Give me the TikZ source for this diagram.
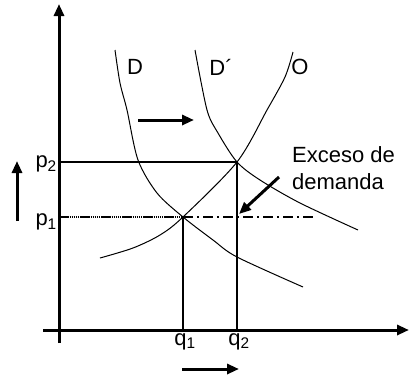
\documentclass[tikz,border=0pt]{standalone}
\usepackage{fontspec}
\setmainfont{Liberation Sans}
\usetikzlibrary{arrows.meta}

\begin{document}
\begin{tikzpicture}[
            x=1pt, y=-1pt,
            >={Triangle[length=12pt, width=10pt]},
            axis/.style={line width=3pt},
            curve/.style={line width=1pt},
            guide/.style={line width=2.6pt},
            movearrow/.style={line width=3pt, ->},
            lbl/.style={font=\fontsize{22}{27}\selectfont, inner sep=1pt},
        ]
        \useasboundingbox (0,0) rectangle (409,378);

        % Equilibrium points
        \coordinate (E1) at (183,217);
        \coordinate (E2) at (237,162);

        % Axes
        \coordinate (yb) at (59,343);
        \coordinate (yt) at (59,4);
        \coordinate (xl) at (43,330);
        \coordinate (xr) at (409,330);
        \draw[axis, ->] (yb) -- (yt);
        \draw[axis, ->] (xl) -- (xr);

        % Demand and supply curves
        \draw[curve] plot[smooth] coordinates {(115,50) (120,83) (127,110) (138,160) (157,193) (183,217) (213,240) (237,257) (303,287)};
        \draw[curve] plot[smooth] coordinates {(195,50) (207,110) (218,133) (237,162) (260,180) (300,203) (358,230)};
        \draw[curve] plot[smooth] coordinates {(100,258) (133,248) (160,235) (183,217) (237,162) (267,110) (285,77) (293,52)};

        \node[lbl] (lD) at (135,67) {D};
        \node[lbl] (lDp) at (221,67) {D\textasciiacute};
        \node[lbl] (lO) at (300,67) {O};

        % Guide lines to the axes
        \coordinate (p1a) at (59,217);
        \coordinate (p2a) at (59,162);
        \coordinate (q1a) at (183,330);
        \coordinate (q2a) at (237,330);
        \coordinate (p1e) at (315,217);
        \draw[guide] (p2a) -- (E2);
        \draw[guide, dash pattern=on 1.5pt off 0.6pt] (p1a) -- (E1);
        \draw[guide, dash pattern=on 10pt off 4pt on 2pt off 4pt] (E1) -- (p1e);
        \draw[guide] (E1) -- (q1a);
        \draw[guide] (E2) -- (q2a);

        % Axis labels
        \node[lbl, left] (p2) at (58,164) {p\textsubscript{2}};
        \node[lbl, left] (p1) at (58,222) {p\textsubscript{1}};
        \node[lbl, below] (q1) at (185,332) {q\textsubscript{1}};
        \node[lbl, below] (q2) at (239,332) {q\textsubscript{2}};

        % Shift arrows
        \coordinate (sa) at (138,120);
        \coordinate (sb) at (194,120);
        \draw[movearrow] (sa) -- (sb);
        \coordinate (pa) at (17,221);
        \coordinate (pb) at (17,161);
        \draw[movearrow] (pa) -- (pb);
        \coordinate (qa) at (182,369);
        \coordinate (qb) at (239,369);
        \draw[movearrow] (qa) -- (qb);

        % Excess demand
        \node[lbl, align=left, anchor=west] (exc) at (291,168) {Exceso de\\demanda};
        \coordinate (ea) at (279,177);
        \coordinate (eb) at (239,214);
        \draw[movearrow] (ea) -- (eb);
    \end{tikzpicture}
\end{document}
